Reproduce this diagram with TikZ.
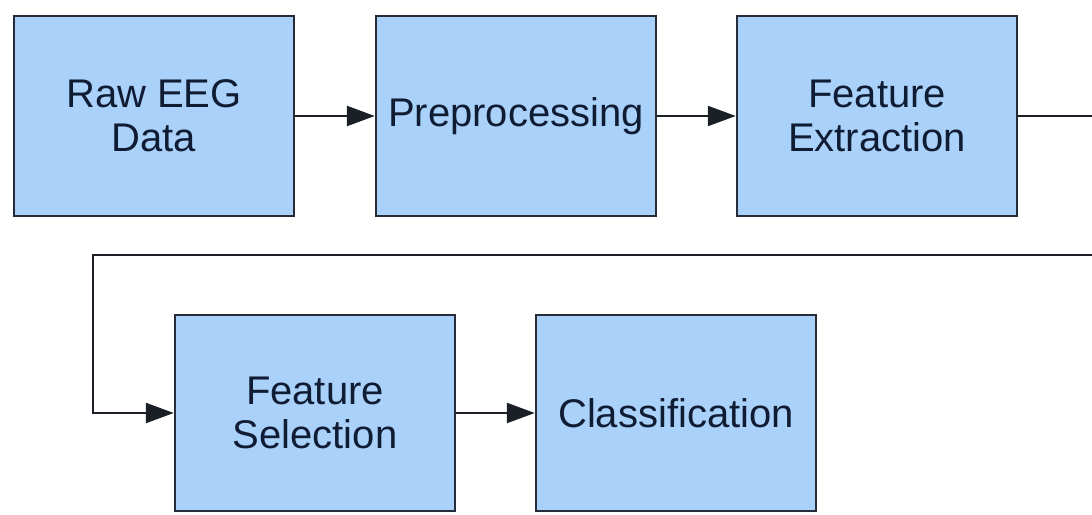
\documentclass[tikz,border=0pt]{standalone}
\usepackage{fontspec}
\setmainfont{Liberation Sans}
\usetikzlibrary{arrows.meta}
\definecolor{boxfill}{HTML}{A9D1F9}
\definecolor{boxline}{HTML}{262D38}
\definecolor{boxtext}{HTML}{101C33}
\tikzset{
  stage/.style={draw=boxline, line width=2.5pt, fill=boxfill, text=boxtext,
    minimum width=280pt, minimum height=200pt, inner sep=0pt,
    align=center, font=\fontsize{40}{44}\selectfont},
  flow/.style={draw=boxline!70!black, line width=2.5pt,
    -{Triangle[length=28pt,width=20pt]}}
}
\begin{document}
\begin{tikzpicture}[x=1pt,y=-1pt]
  \useasboundingbox (0,0) rectangle (1092,514);
  \fill[white] (0,0) rectangle (1092,514);
  % top row
  \node[stage] (raw)  at (154,116) {Raw EEG\\Data};
  \node[stage] (pre)  at (516,116) {Preprocessing};
  \node[stage] (fext) at (877,116) {Feature\\Extraction};
  % bottom row
  \node[stage, minimum height=196pt] (fsel) at (315,413) {Feature\\Selection};
  \node[stage, minimum height=196pt] (cls)  at (676,413) {Classification};
  % route of the wrap-around connector
  \coordinate (r1) at (1095,116);
  \coordinate (r2) at (1095,255);
  \coordinate (l1) at (93,255);
  \coordinate (l2) at (93,413);
  \draw[flow] (raw) -- (pre);
  \draw[flow] (pre) -- (fext);
  \draw[flow] (fext.east) -- (r1) -- (r2) -- (l1) -- (l2) -- (fsel.west);
  \draw[flow] (fsel) -- (cls);
\end{tikzpicture}
\end{document}
